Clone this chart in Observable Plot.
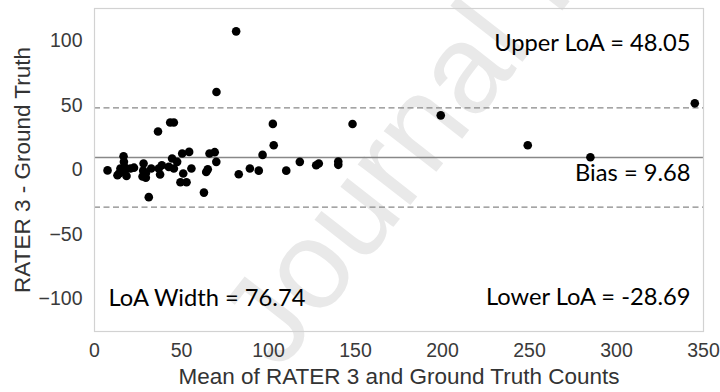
<!DOCTYPE html>
<html>
<head>
<meta charset="utf-8">
<script src="https://cdn.jsdelivr.net/npm/d3@7"></script>
<script src="https://cdn.jsdelivr.net/npm/@observablehq/plot@0.6"></script>
<style>
  html, body { margin: 0; padding: 0; background: #fff; }
  #wrap { position: relative; width: 720px; height: 392px; overflow: hidden; }
  #wm { position: absolute; left: 0; top: 0; z-index: 0; }
  #chart { position: absolute; left: 0; top: 0; z-index: 1; }
</style>
</head>
<body>
<div id="wrap">
  <div id="wm"></div>
  <div id="chart"></div>
</div>
<script>
const means = [7.5,13.2,14.3,14.9,16.7,16.9,17.2,17.5,18.4,20.7,22.7,27.6,28.0,28.2,29.5,29.5,31.2,32.6,36.5,36.9,37.7,38.7,42.7,43.5,44.6,45.6,45.6,47.5,49.4,50.4,51.0,52.9,54.4,55.7,62.9,64.2,65.1,66.1,69.1,70.0,70.1,81.4,82.9,89.3,94.4,96.6,102.5,103.0,110.2,118.0,127.4,128.9,140.1,140.1,148.3,199,249,285,345];
const diffs = [-0.3,-4.0,-2.5,1.2,10.7,6.3,-1.5,2.0,-4.6,1.2,1.8,-5.0,-0.5,5.0,-2.5,-6.0,-21.0,1.2,29.8,1.2,-3.5,3.7,2.4,36.8,8.9,36.8,1.2,6.3,-9.5,12.8,-2.7,-9.5,14.0,1.2,-17.5,-1.5,0.5,12.8,13.8,6.3,60.4,107.3,-3.3,1.2,-0.5,11.7,35.7,19.2,-0.5,6.3,3.7,5.0,4.0,6.5,35.6,42.3,19.1,9.9,51.6];
const bias = 9.68;
const upperLoA = 48.05;
const lowerLoA = -28.69;
const loaWidth = 76.74;
const xTicks = [0,50,100,150,200,250,300,350];
const yTicks = [-100,-50,0,50,100];
const xLabel = "Mean of RATER 3 and Ground Truth Counts";
const yLabel = "RATER 3 - Ground Truth";
const watermark = "Journal Pre-proof";

// watermark (page decoration, behind the chart)
const wm = d3.select("#wm").append("svg").attr("width", 720).attr("height", 392);
wm.append("text")
  .attr("x", 280).attr("y", 372)
  .attr("transform", "rotate(-52,280,372)")
  .attr("font-family", "'Liberation Sans', Arial, sans-serif")
  .attr("font-size", 126)
  .attr("fill", "#e9e9e9")
  .text(watermark);

const data = means.map((m, i) => ({mean: m, diff: diffs[i]}));
const annFont = "Lato, 'Open Sans', sans-serif";
const annSize = 23.7;
const tickSize = 19.5;

const chart = Plot.plot({
  width: 720,
  height: 392,
  marginLeft: 94,
  marginRight: 17,
  marginTop: 8,
  marginBottom: 61,
  x: {domain: [0, 350]},
  y: {domain: [-125, 125]},
  style: {fontFamily: "'Liberation Sans', Arial, sans-serif", fontSize: tickSize + "px", color: "#3a3a3a", background: "transparent"},
  marks: [
    Plot.ruleY([upperLoA, lowerLoA], {stroke: "#888", strokeWidth: 1.3, strokeDasharray: "6,3.5"}),
    Plot.ruleY([bias], {stroke: "#888", strokeWidth: 1.5}),
    Plot.frame({stroke: "#d2d2d2", strokeWidth: 1.2}),
    Plot.axisX({ticks: xTicks, tickSize: 0, tickPadding: 12, label: null, fontSize: tickSize, fill: "#3a3a3a"}),
    Plot.axisY({ticks: yTicks, tickSize: 0, tickPadding: 12, label: null, fontSize: tickSize, fill: "#3a3a3a", tickFormat: d => d < 0 ? "\u2212" + Math.abs(d) : String(d)}),
    Plot.text([xLabel], {frameAnchor: "bottom", textAnchor: "middle", lineAnchor: "middle", dy: 45, fontSize: 22.5, fill: "#333"}),
    Plot.text([yLabel], {frameAnchor: "left", textAnchor: "middle", lineAnchor: "middle", rotate: -90, dx: -72, fontSize: 22.5, fill: "#333"}),
    Plot.dot(data, {x: "mean", y: "diff", r: 4.3, fill: "#000", stroke: "none"}),
    Plot.text([`Upper LoA = ${upperLoA.toFixed(2)}`], {frameAnchor: "top-right", textAnchor: "end", lineAnchor: "middle", dx: -13, dy: 35, fontSize: annSize, fontFamily: annFont, fill: "#000"}),
    Plot.text([bias], {y: d => d, frameAnchor: "right", textAnchor: "end", lineAnchor: "middle", dx: -13, dy: 16, fontSize: annSize, fontFamily: annFont, fill: "#000", text: d => `Bias = ${d.toFixed(2)}`}),
    Plot.text([`Lower LoA = ${lowerLoA.toFixed(2)}`], {frameAnchor: "bottom-right", textAnchor: "end", lineAnchor: "middle", dx: -13, dy: -34, fontSize: annSize, fontFamily: annFont, fill: "#000"}),
    Plot.text([`LoA Width = ${loaWidth.toFixed(2)}`], {frameAnchor: "bottom-left", textAnchor: "start", lineAnchor: "middle", dx: 14, dy: -33, fontSize: annSize, fontFamily: annFont, fill: "#000"})
  ]
});
document.getElementById("chart").appendChild(chart);
</script>
</body>
</html>
